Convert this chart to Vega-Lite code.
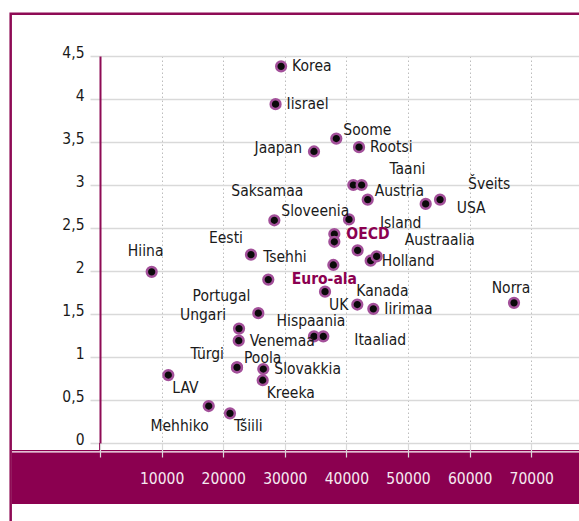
{
  "$schema": "https://vega.github.io/schema/vega-lite/v6.json",
  "width": 479,
  "height": 387,
  "padding": {"left": 100, "top": 56, "right": 0, "bottom": 78},
  "autosize": {"type": "none"},
  "background": "white",
  "config": {
    "view": {"stroke": null},
    "font": "DejaVu Sans Condensed, Liberation Sans Narrow, Roboto, sans-serif",
    "text": {"font": "DejaVu Sans Condensed, Liberation Sans Narrow, Roboto, sans-serif", "fontSize": 15.5, "color": "#1a1a1a"},
    "axis": {"labelFont": "DejaVu Sans Condensed, Liberation Sans Narrow, Roboto, sans-serif"}
  },
  "datasets": {
    "oecd": [
      {"name": "Korea", "gdp": 29400, "rd": 4.38, "pos": "E", "kind": "country"},
      {"name": "Iisrael", "gdp": 28500, "rd": 3.94, "pos": "E", "kind": "country"},
      {"name": "Soome", "gdp": 38360, "rd": 3.54, "pos": "NE", "kind": "country"},
      {"name": "Rootsi", "gdp": 42050, "rd": 3.44, "pos": "E", "kind": "country"},
      {"name": "Jaapan", "gdp": 34740, "rd": 3.39, "pos": "W", "kind": "country"},
      {"name": "Saksamaa", "gdp": 41120, "rd": 3.0, "pos": "Wfar", "kind": "country"},
      {"name": "Taani", "gdp": 42470, "rd": 3.0, "pos": "NEfar", "kind": "country"},
      {"name": "Austria", "gdp": 43460, "rd": 2.83, "pos": "NE", "kind": "country"},
      {"name": "USA", "gdp": 52870, "rd": 2.78, "pos": "Efar", "kind": "country"},
      {"name": "Šveits", "gdp": 55200, "rd": 2.83, "pos": "NEfar", "kind": "country"},
      {"name": "Sloveenia", "gdp": 28300, "rd": 2.59, "pos": "NE", "kind": "country"},
      {"name": "Island", "gdp": 40420, "rd": 2.6, "pos": "Efar", "kind": "country"},
      {"name": "OECD", "gdp": 38040, "rd": 2.43, "pos": "E", "kind": "aggregate"},
      {"name": "Prantsusmaa", "gdp": 38040, "rd": 2.34, "pos": "none", "kind": "country"},
      {"name": "Eesti", "gdp": 24510, "rd": 2.19, "pos": "NWhigh", "kind": "country"},
      {"name": "Tsehhi", "gdp": 27320, "rd": 1.9, "pos": "NNE", "kind": "country"},
      {"name": "Euro-ala", "gdp": 37880, "rd": 2.07, "pos": "S", "kind": "aggregate"},
      {"name": "UK", "gdp": 36530, "rd": 1.76, "pos": "SE", "kind": "country"},
      {"name": "Kanada", "gdp": 41770, "rd": 1.61, "pos": "NEhigh", "kind": "country"},
      {"name": "Iirimaa", "gdp": 44370, "rd": 1.56, "pos": "E", "kind": "country"},
      {"name": "Hispaania", "gdp": 34740, "rd": 1.24, "pos": "N", "kind": "country"},
      {"name": "Itaaliad", "gdp": 36250, "rd": 1.24, "pos": "Efar", "kind": "country"},
      {"name": "Belgia", "gdp": 41820, "rd": 2.24, "pos": "none", "kind": "country"},
      {"name": "Holland", "gdp": 43940, "rd": 2.12, "pos": "E", "kind": "country"},
      {"name": "Austraalia", "gdp": 44910, "rd": 2.17, "pos": "NEfar", "kind": "country"},
      {"name": "Hiina", "gdp": 8390, "rd": 1.99, "pos": "Nhigh", "kind": "country"},
      {"name": "Portugal", "gdp": 25700, "rd": 1.51, "pos": "NWhigh", "kind": "country"},
      {"name": "Ungari", "gdp": 22570, "rd": 1.33, "pos": "NW", "kind": "country"},
      {"name": "Venemaa", "gdp": 22520, "rd": 1.19, "pos": "E", "kind": "country"},
      {"name": "Poola", "gdp": 22240, "rd": 0.88, "pos": "NE", "kind": "country"},
      {"name": "Türgi", "gdp": 22240, "rd": 0.88, "pos": "NW", "kind": "country"},
      {"name": "Slovakkia", "gdp": 26510, "rd": 0.86, "pos": "E", "kind": "country"},
      {"name": "Kreeka", "gdp": 26410, "rd": 0.73, "pos": "SE", "kind": "country"},
      {"name": "LAV", "gdp": 11090, "rd": 0.79, "pos": "SE", "kind": "country"},
      {"name": "Mehhiko", "gdp": 17650, "rd": 0.43, "pos": "SW", "kind": "country"},
      {"name": "Tšiili", "gdp": 21100, "rd": 0.345, "pos": "SE", "kind": "country"},
      {"name": "Norra", "gdp": 67210, "rd": 1.63, "pos": "N", "kind": "country"}
    ]
  },
  "data": {"name": "oecd"},
  "resolve": {"axis": {"x": "independent", "y": "independent"}},
  "layer": [
    {
      "data": {"values": [{"part": "frame"}]},
      "mark": {"type": "rect", "fillOpacity": 0, "stroke": "#8e0b55", "strokeWidth": 2.5, "clip": false},
      "encoding": {
        "x": {"datum": -14500, "type": "quantitative", "scale": {"domain": [0, 77760], "nice": false, "zero": false}, "axis": null},
        "x2": {"datum": 95000},
        "y": {"datum": 4.99, "type": "quantitative", "scale": {"domain": [0, 4.5], "nice": false, "zero": false}, "axis": null},
        "y2": {"datum": -1.6}
      }
    },
    {
      "data": {"values": [{"part": "band"}]},
      "mark": {"type": "rect", "fill": "#8b0050", "clip": false},
      "encoding": {
        "x": {"datum": -14290, "type": "quantitative", "scale": {"domain": [0, 77760], "nice": false, "zero": false},
          "axis": {"orient": "bottom", "values": [0, 10000, 20000, 30000, 40000, 50000, 60000, 70000], "format": "d",
            "labelExpr": "datum.value == 0 ? '' : datum.label", "domain": false, "grid": false, "ticks": true, "tickSize": 14,
            "tickColor": "#d9d9d9", "tickWidth": 1.2, "labelColor": "#f6eaf1", "labelFontSize": 15.5, "labelBaseline": "alphabetic",
            "labelPadding": 26, "labelOverlap": false, "labelFlush": false, "title": null, "zindex": 1}},
        "x2": {"datum": 95000},
        "y": {"datum": -0.0814, "type": "quantitative", "scale": {"domain": [0, 4.5], "nice": false, "zero": false}, "axis": null},
        "y2": {"datum": -0.709}
      }
    },
    {
      "data": {"values": [{"part": "bandline"}]},
      "mark": {"type": "rule", "stroke": "white", "strokeWidth": 1.3, "clip": false},
      "encoding": {
        "x": {"datum": -14290, "type": "quantitative", "axis": null},
        "x2": {"datum": 95000},
        "y": {"datum": -0.1035, "type": "quantitative", "axis": null}
      }
    },
    {
      "data": {"values": [{"part": "axisfoot"}]},
      "mark": {"type": "rule", "stroke": "#8e0b55", "strokeWidth": 2, "clip": false},
      "encoding": {
        "x": {"datum": 0, "type": "quantitative", "axis": null},
        "y": {"datum": 0, "type": "quantitative", "axis": null},
        "y2": {"datum": -0.09}
      }
    },
    {
      "mark": {"type": "circle", "size": 95, "fill": "#0a0a0a", "opacity": 1, "stroke": "#a3509a", "strokeWidth": 2.5},
      "encoding": {
        "x": {"field": "gdp", "type": "quantitative", "scale": {"domain": [0, 77760], "nice": false, "zero": false},
          "axis": {"orient": "bottom", "values": [10000, 20000, 30000, 40000, 50000, 60000, 70000], "grid": true,
            "gridDash": [1.5, 2.5], "gridColor": "#bdbdbd", "gridWidth": 1, "domain": false, "ticks": false, "labels": false,
            "title": null, "zindex": 0}},
        "y": {"field": "rd", "type": "quantitative", "scale": {"domain": [0, 4.5], "nice": false, "zero": false},
          "axis": {"orient": "left", "values": [0, 0.5, 1, 1.5, 2, 2.5, 3, 3.5, 4, 4.5], "format": "~g", "grid": true, "gridColor": "#d9d9d9", "gridWidth": 1.6,
            "domain": true, "domainColor": "#8e0b55", "domainWidth": 2, "ticks": true, "tickSize": 10, "tickColor": "#d9d9d9",
            "tickWidth": 1.6, "labelPadding": 6, "labelFontSize": 15.5, "labelColor": "#1a1a1a", "labelBaseline": "alphabetic",
            "labelOffset": 1, "labelExpr": "replace(datum.label, '.', ',')", "title": null, "zindex": 0}}
      }
    },
    {
      "transform": [{"filter": "datum.pos == 'E' && datum.kind == 'country'"}],
      "mark": {"type": "text", "align": "left", "baseline": "middle", "dx": 11, "dy": 0},
      "encoding": {"x": {"field": "gdp", "type": "quantitative", "axis": null}, "y": {"field": "rd", "type": "quantitative", "axis": null}, "text": {"field": "name"}}
    },
    {
      "transform": [{"filter": "datum.pos == 'Efar'"}],
      "mark": {"type": "text", "align": "left", "baseline": "middle", "dx": 31, "dy": 4},
      "encoding": {"x": {"field": "gdp", "type": "quantitative", "axis": null}, "y": {"field": "rd", "type": "quantitative", "axis": null}, "text": {"field": "name"}}
    },
    {
      "transform": [{"filter": "datum.pos == 'NEfar'"}],
      "mark": {"type": "text", "align": "left", "baseline": "middle", "dx": 28, "dy": -16},
      "encoding": {"x": {"field": "gdp", "type": "quantitative", "axis": null}, "y": {"field": "rd", "type": "quantitative", "axis": null}, "text": {"field": "name"}}
    },
    {
      "transform": [{"filter": "datum.pos == 'NE'"}],
      "mark": {"type": "text", "align": "left", "baseline": "middle", "dx": 7, "dy": -9},
      "encoding": {"x": {"field": "gdp", "type": "quantitative", "axis": null}, "y": {"field": "rd", "type": "quantitative", "axis": null}, "text": {"field": "name"}}
    },
    {
      "transform": [{"filter": "datum.pos == 'NEhigh'"}],
      "mark": {"type": "text", "align": "left", "baseline": "middle", "dx": -1, "dy": -13.7},
      "encoding": {"x": {"field": "gdp", "type": "quantitative", "axis": null}, "y": {"field": "rd", "type": "quantitative", "axis": null}, "text": {"field": "name"}}
    },
    {
      "transform": [{"filter": "datum.pos == 'NNE'"}],
      "mark": {"type": "text", "align": "left", "baseline": "middle", "dx": -5, "dy": -22.5},
      "encoding": {"x": {"field": "gdp", "type": "quantitative", "axis": null}, "y": {"field": "rd", "type": "quantitative", "axis": null}, "text": {"field": "name"}}
    },
    {
      "transform": [{"filter": "datum.pos == 'N'"}],
      "mark": {"type": "text", "align": "center", "baseline": "middle", "dx": -3, "dy": -15},
      "encoding": {"x": {"field": "gdp", "type": "quantitative", "axis": null}, "y": {"field": "rd", "type": "quantitative", "axis": null}, "text": {"field": "name"}}
    },
    {
      "transform": [{"filter": "datum.pos == 'Nhigh'"}],
      "mark": {"type": "text", "align": "center", "baseline": "middle", "dx": -6, "dy": -21},
      "encoding": {"x": {"field": "gdp", "type": "quantitative", "axis": null}, "y": {"field": "rd", "type": "quantitative", "axis": null}, "text": {"field": "name"}}
    },
    {
      "transform": [{"filter": "datum.pos == 'NW'"}],
      "mark": {"type": "text", "align": "right", "baseline": "middle", "dx": -13, "dy": -13.5},
      "encoding": {"x": {"field": "gdp", "type": "quantitative", "axis": null}, "y": {"field": "rd", "type": "quantitative", "axis": null}, "text": {"field": "name"}}
    },
    {
      "transform": [{"filter": "datum.pos == 'NWhigh'"}],
      "mark": {"type": "text", "align": "right", "baseline": "middle", "dx": -8, "dy": -17},
      "encoding": {"x": {"field": "gdp", "type": "quantitative", "axis": null}, "y": {"field": "rd", "type": "quantitative", "axis": null}, "text": {"field": "name"}}
    },
    {
      "transform": [{"filter": "datum.pos == 'W'"}],
      "mark": {"type": "text", "align": "right", "baseline": "middle", "dx": -12, "dy": -3.4},
      "encoding": {"x": {"field": "gdp", "type": "quantitative", "axis": null}, "y": {"field": "rd", "type": "quantitative", "axis": null}, "text": {"field": "name"}}
    },
    {
      "transform": [{"filter": "datum.pos == 'Wfar'"}],
      "mark": {"type": "text", "align": "right", "baseline": "middle", "dx": -50, "dy": 5.6},
      "encoding": {"x": {"field": "gdp", "type": "quantitative", "axis": null}, "y": {"field": "rd", "type": "quantitative", "axis": null}, "text": {"field": "name"}}
    },
    {
      "transform": [{"filter": "datum.pos == 'SE'"}],
      "mark": {"type": "text", "align": "left", "baseline": "middle", "dx": 4, "dy": 13},
      "encoding": {"x": {"field": "gdp", "type": "quantitative", "axis": null}, "y": {"field": "rd", "type": "quantitative", "axis": null}, "text": {"field": "name"}}
    },
    {
      "transform": [{"filter": "datum.pos == 'SW'"}],
      "mark": {"type": "text", "align": "right", "baseline": "middle", "dx": 0, "dy": 19.6},
      "encoding": {"x": {"field": "gdp", "type": "quantitative", "axis": null}, "y": {"field": "rd", "type": "quantitative", "axis": null}, "text": {"field": "name"}}
    },
    {
      "transform": [{"filter": "datum.pos == 'E' && datum.kind == 'aggregate'"}],
      "mark": {"type": "text", "align": "left", "baseline": "middle", "dx": 12, "dy": 0, "fontWeight": "bold", "color": "#8b0050"},
      "encoding": {"x": {"field": "gdp", "type": "quantitative", "axis": null}, "y": {"field": "rd", "type": "quantitative", "axis": null}, "text": {"field": "name"}}
    },
    {
      "transform": [{"filter": "datum.pos == 'S'"}],
      "mark": {"type": "text", "align": "center", "baseline": "middle", "dx": -9, "dy": 14, "fontWeight": "bold", "color": "#8b0050"},
      "encoding": {"x": {"field": "gdp", "type": "quantitative", "axis": null}, "y": {"field": "rd", "type": "quantitative", "axis": null}, "text": {"field": "name"}}
    }
  ]
}
